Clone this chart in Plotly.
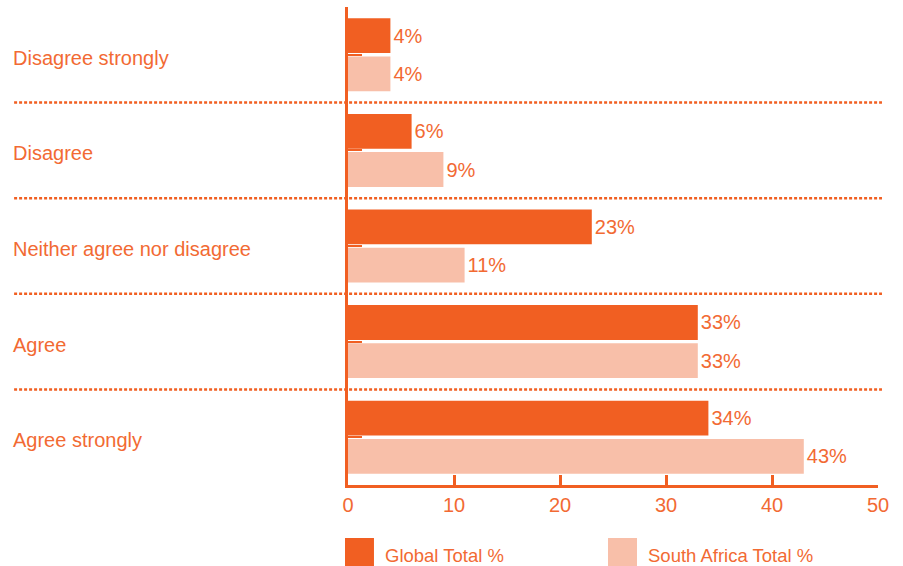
import plotly.graph_objects as go

# Survey responses (percent of respondents)
categories = [
    "Disagree strongly",
    "Disagree",
    "Neither agree nor disagree",
    "Agree",
    "Agree strongly",
]
global_total = [4, 6, 23, 33, 34]
south_africa_total = [4, 9, 11, 33, 43]
series_names = ["Global Total %", "South Africa Total %"]
x_ticks = [0, 10, 20, 30, 40, 50]

ORANGE = "#F15F22"
PEACH = "#F8BFA9"
TEXT = "#F26A33"
FONT = "Liberation Sans, Arial, Helvetica, sans-serif"
FSIZE = 20

fig = go.Figure()
for name, vals, col in [
    (series_names[0], global_total, ORANGE),
    (series_names[1], south_africa_total, PEACH),
]:
    fig.add_trace(go.Bar(
        y=categories, x=vals, name=name, orientation="h",
        marker=dict(color=col, line=dict(width=0)),
        texttemplate="%{x}%", textposition="outside",
        textfont=dict(color=TEXT, size=FSIZE, family=FONT),
        constraintext="none", cliponaxis=False,
        showlegend=False,
    ))

# Dotted separators between the answer groups
shapes = []
for i in range(len(categories) - 1):
    shapes.append(dict(
        type="line", xref="paper", yref="y",
        x0=-0.630, x1=1.0075, y0=i + 0.5, y1=i + 0.5,
        line=dict(color=ORANGE, width=2.5, dash="3px,2px"),
        layer="below",
    ))

# Category labels, left aligned at the far left
annotations = []
for c in categories:
    annotations.append(dict(
        xref="paper", yref="y", x=-0.636, y=c, yshift=-3,
        text=c, showarrow=False, xanchor="left", yanchor="middle",
        font=dict(color=TEXT, size=FSIZE, family=FONT),
    ))

# Legend drawn as large swatches under the axis
legend_items = [(series_names[0], ORANGE, -0.0057), (series_names[1], PEACH, 0.4906)]
for name, col, x0 in legend_items:
    shapes.append(dict(
        type="rect", xref="paper", yref="paper",
        x0=x0, x1=x0 + 0.0547, y0=-0.1109, y1=-0.1715,
        fillcolor=col, line=dict(width=0),
    ))
    annotations.append(dict(
        xref="paper", yref="paper", x=x0 + 0.072, y=-0.1465,
        text=name, showarrow=False, xanchor="left", yanchor="middle",
        font=dict(color=TEXT, size=18.5, family=FONT),
    ))

fig.update_layout(
    width=903, height=566,
    margin=dict(l=348, r=25, t=7, b=81),
    paper_bgcolor="white", plot_bgcolor="white",
    barmode="group", bargap=0.2, bargroupgap=0.09,
    font=dict(family=FONT, color=TEXT, size=FSIZE),
    shapes=shapes, annotations=annotations,
    showlegend=False,
)
fig.update_xaxes(
    range=[0, 50], tickvals=x_ticks, ticktext=[str(t) for t in x_ticks],
    showgrid=False, zeroline=False,
    showline=True, linecolor=ORANGE, linewidth=2.5,
    ticks="inside", ticklen=10, tickwidth=2.5, tickcolor=ORANGE,
    tickfont=dict(color=TEXT, size=FSIZE, family=FONT),
    ticklabelstandoff=0,
)
fig.update_yaxes(
    type="category", categoryorder="array", categoryarray=categories,
    range=[4.5, -0.5],
    showgrid=False, zeroline=False, showticklabels=False,
    showline=True, linecolor=ORANGE, linewidth=2.5,
    ticks="inside", ticklen=14, tickwidth=1.5, tickcolor=ORANGE,
)

fig.write_html("out.html")
